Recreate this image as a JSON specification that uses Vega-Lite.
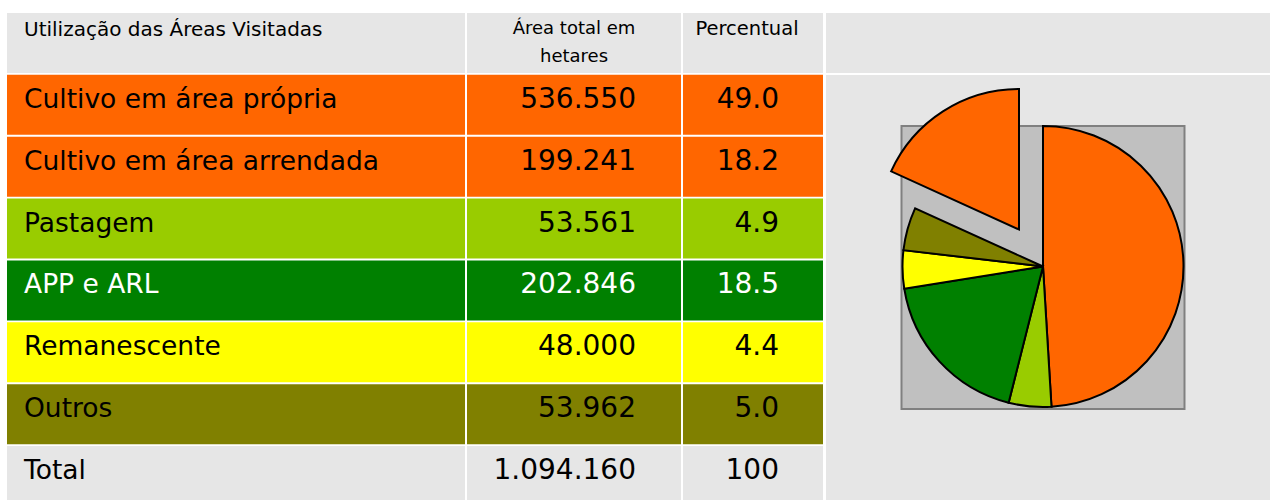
{
  "$schema": "https://vega.github.io/schema/vega-lite/v6.json",
  "padding": {"left": 7, "top": 13, "right": 0, "bottom": 0},
  "background": "white",
  "spacing": 2,
  "config": {
    "view": {"stroke": null},
    "font": "DejaVu Sans",
    "locale": {"number": {"decimal": ",", "thousands": ".", "grouping": [3], "currency": ["R$", ""]}}
  },
  "resolve": {"scale": {"x": "independent", "y": "shared", "color": "shared", "theta": "independent"}},
  "datasets": {
    "tabela": [
      {"linha": "Utilização das Áreas Visitadas", "cab_area": "Área total em\nhetares", "cab_pct": "Percentual"},
      {"linha": "Cultivo em área própria", "area": 536550, "percentual": "49.0", "ordem_grafico": 1},
      {"linha": "Cultivo em área arrendada", "area": 199241, "percentual": "18.2", "ordem_grafico": 6},
      {"linha": "Pastagem", "area": 53561, "percentual": "4.9", "ordem_grafico": 2},
      {"linha": "APP e ARL", "area": 202846, "percentual": "18.5", "ordem_grafico": 3},
      {"linha": "Remanescente", "area": 48000, "percentual": "4.4", "ordem_grafico": 4},
      {"linha": "Outros", "area": 53962, "percentual": "5.0", "ordem_grafico": 5},
      {"linha": "Total", "area": 1094160, "percentual": "100"}
    ]
  },
  "hconcat": [
    {
      "width": 458,
      "height": 493,
      "data": {"name": "tabela"},
      "layer": [
        {
          "mark": {"type": "rect"},
          "encoding": {
            "x": {"datum": 0, "type": "quantitative", "scale": {"domain": [0, 1]}, "axis": null},
            "x2": {"datum": 1},
            "y": {"field": "linha", "type": "nominal", "sort": null, "scale": {"domain": ["Utilização das Áreas Visitadas", "Cultivo em área própria", "Cultivo em área arrendada", "Pastagem", "APP e ARL", "Remanescente", "Outros", "Total"], "paddingInner": 0.032, "paddingOuter": 0}, "axis": null},
            "color": {"field": "linha", "type": "nominal", "scale": {"domain": ["Utilização das Áreas Visitadas", "Cultivo em área própria", "Cultivo em área arrendada", "Pastagem", "APP e ARL", "Remanescente", "Outros", "Total"], "range": ["#e6e6e6", "#ff6600", "#ff6600", "#99cc00", "#008000", "#ffff00", "#808000", "#e6e6e6"]}, "legend": null}
          }
        },
        {
          "transform": [{"filter": "datum.linha === 'Utilização das Áreas Visitadas'"}],
          "mark": {"type": "text", "align": "left", "baseline": "top", "dx": 17, "dy": 7, "fontSize": 20, "color": "black"},
          "encoding": {
            "x": {"datum": 0, "type": "quantitative"},
            "y": {"field": "linha", "type": "nominal", "bandPosition": 0},
            "text": {"field": "linha"}
          }
        },
        {
          "transform": [{"filter": "datum.linha !== 'Utilização das Áreas Visitadas'"}],
          "mark": {"type": "text", "align": "left", "baseline": "middle", "dx": 17, "dy": -5, "fontSize": 26.5},
          "encoding": {
            "x": {"datum": 0, "type": "quantitative"},
            "y": {"field": "linha", "type": "nominal"},
            "text": {"field": "linha"},
            "color": {"condition": {"test": "datum.linha === 'APP e ARL'", "value": "white"}, "value": "black"}
          }
        }
      ]
    },
    {
      "width": 214,
      "height": 493,
      "data": {"name": "tabela"},
      "layer": [
        {
          "mark": {"type": "rect"},
          "encoding": {
            "x": {"datum": 0, "type": "quantitative", "scale": {"domain": [0, 1]}, "axis": null},
            "x2": {"datum": 1},
            "y": {"field": "linha", "type": "nominal", "axis": null},
            "color": {"field": "linha", "type": "nominal", "legend": null}
          }
        },
        {
          "transform": [{"filter": "datum.linha === 'Utilização das Áreas Visitadas'"}],
          "mark": {"type": "text", "align": "center", "baseline": "top", "dy": 7, "fontSize": 18, "lineBreak": "\n", "lineHeight": 28, "color": "black"},
          "encoding": {
            "y": {"field": "linha", "type": "nominal", "bandPosition": 0},
            "text": {"field": "cab_area"}
          }
        },
        {
          "transform": [{"filter": "datum.linha !== 'Utilização das Áreas Visitadas'"}],
          "mark": {"type": "text", "align": "right", "baseline": "middle", "dx": -45, "dy": -5, "fontSize": 28},
          "encoding": {
            "x": {"datum": 1, "type": "quantitative"},
            "y": {"field": "linha", "type": "nominal"},
            "text": {"field": "area", "type": "quantitative", "format": ",.0f"},
            "color": {"condition": {"test": "datum.linha === 'APP e ARL'", "value": "white"}, "value": "black"}
          }
        }
      ]
    },
    {
      "width": 140,
      "height": 493,
      "data": {"name": "tabela"},
      "layer": [
        {
          "mark": {"type": "rect"},
          "encoding": {
            "x": {"datum": 0, "type": "quantitative", "scale": {"domain": [0, 1]}, "axis": null},
            "x2": {"datum": 1},
            "y": {"field": "linha", "type": "nominal", "axis": null},
            "color": {"field": "linha", "type": "nominal", "legend": null}
          }
        },
        {
          "transform": [{"filter": "datum.linha === 'Utilização das Áreas Visitadas'"}],
          "mark": {"type": "text", "align": "center", "baseline": "top", "dx": -6, "dy": 7, "fontSize": 19.5, "color": "black"},
          "encoding": {
            "y": {"field": "linha", "type": "nominal", "bandPosition": 0},
            "text": {"field": "cab_pct"}
          }
        },
        {
          "transform": [{"filter": "datum.linha !== 'Utilização das Áreas Visitadas'"}],
          "mark": {"type": "text", "align": "right", "baseline": "middle", "dx": -44, "dy": -5, "fontSize": 28},
          "encoding": {
            "x": {"datum": 1, "type": "quantitative"},
            "y": {"field": "linha", "type": "nominal"},
            "text": {"field": "percentual"},
            "color": {"condition": {"test": "datum.linha === 'APP e ARL'", "value": "white"}, "value": "black"}
          }
        }
      ]
    },
    {
      "width": 444,
      "height": 493,
      "view": {"fill": "#e6e6e6", "stroke": null},
      "layer": [
        {
          "data": {"name": "tabela"},
          "transform": [{"filter": "datum.linha === 'Utilização das Áreas Visitadas'"}],
          "mark": {"type": "rule", "color": "white", "strokeWidth": 2, "yOffset": 1},
          "encoding": {
            "y": {"field": "linha", "type": "nominal", "bandPosition": 1, "axis": null}
          }
        },
        {
          "data": {"name": "tabela"},
          "transform": [{"filter": "datum.linha === 'Total'"}],
          "mark": {"type": "point", "shape": "square", "size": 80089, "filled": true, "color": "#c0c0c0", "stroke": "#808080", "strokeWidth": 2, "opacity": 1, "xOffset": -5, "yOffset": 8},
          "encoding": {}
        },
        {
          "data": {"name": "tabela"},
          "transform": [
            {"filter": "isValid(datum.ordem_grafico)"},
            {"stack": "area", "groupby": [], "sort": [{"field": "ordem_grafico", "order": "ascending"}], "as": ["ini", "fim"]},
            {"filter": "datum.linha !== 'Cultivo em área arrendada'"}
          ],
          "mark": {"type": "arc", "radius": 140.5, "stroke": "black", "strokeWidth": 2, "xOffset": -5, "yOffset": 7},
          "encoding": {
            "theta": {"field": "ini", "type": "quantitative", "scale": {"domain": [0, 1094160]}},
            "theta2": {"field": "fim"},
            "color": {"field": "linha", "type": "nominal", "legend": null}
          }
        },
        {
          "data": {"name": "tabela"},
          "transform": [
            {"filter": "isValid(datum.ordem_grafico)"},
            {"stack": "area", "groupby": [], "sort": [{"field": "ordem_grafico", "order": "ascending"}], "as": ["ini", "fim"]},
            {"filter": "datum.linha === 'Cultivo em área arrendada'"}
          ],
          "mark": {"type": "arc", "radius": 140.5, "stroke": "black", "strokeWidth": 2, "xOffset": -29, "yOffset": -30},
          "encoding": {
            "theta": {"field": "ini", "type": "quantitative"},
            "theta2": {"field": "fim"},
            "color": {"field": "linha", "type": "nominal", "legend": null}
          }
        }
      ]
    }
  ]
}
